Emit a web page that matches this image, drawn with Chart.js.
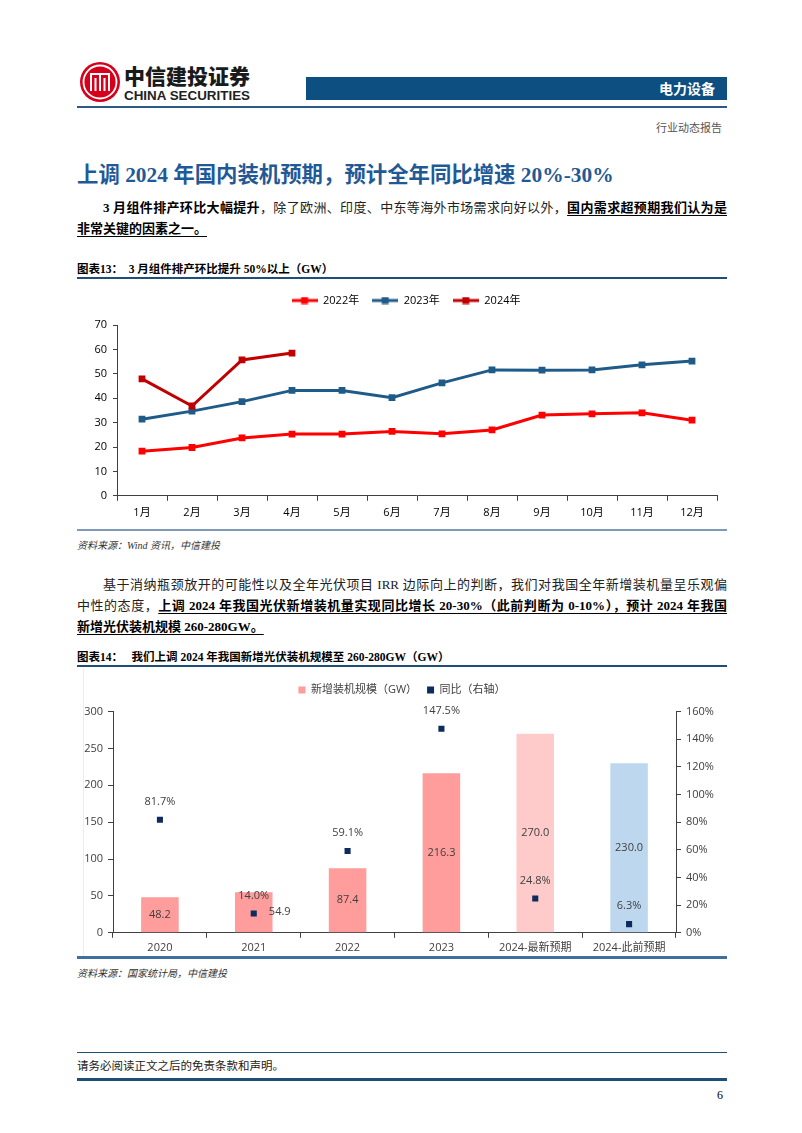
<!DOCTYPE html>
<html>
<head>
<meta charset="utf-8">
<script src="https://cdn.jsdelivr.net/npm/chart.js@4.4.1/dist/chart.umd.min.js"></script>
<style>
  body { margin: 0; background: #fff; }
  #page { position: relative; width: 802px; height: 1133px; overflow: hidden; background: #fff;
    font-family: "Liberation Serif", "Noto Sans CJK SC", serif; color: #000; }
  .abs { position: absolute; }
  .rule { position: absolute; left: 77px; width: 650px; }
  .line { position: absolute; left: 77px; width: 650px; height: 21px; line-height: 21px; font-size: 13px; white-space: nowrap; }
  .full { text-align: justify; text-align-last: justify; text-justify: inter-character; }
  .b { font-weight: bold; }
  .u { text-decoration: underline; text-underline-offset: 3px; text-decoration-thickness: 1px; }
  .reg { color: #222; }
  .figtitle { position: absolute; left: 77px; font-size: 11.5px; font-weight: bold; white-space: nowrap; }
  .source { position: absolute; left: 77px; font-size: 10px; font-style: italic; color: #333; }
  canvas { position: absolute; }
</style>
</head>
<body>
<div id="page">
  <!-- header -->
  <svg class="abs" style="left:78px;top:60px" width="180" height="44">
    <circle cx="22" cy="22" r="20" fill="#d7001b"/>
    <circle cx="22" cy="22" r="16.5" fill="none" stroke="#fff" stroke-width="1.8"/>
    <path d="M13 31 V14 H31 V31 M17.5 31 V18 M26.5 31 V18 M22 14 V31" fill="none" stroke="#fff" stroke-width="2"/>
    <text x="46" y="24" font-family="Noto Sans CJK SC" font-weight="900" font-size="21" fill="#1a1a1a" textLength="126" lengthAdjust="spacingAndGlyphs">中信建投证券</text>
    <text x="46" y="40" font-family="Liberation Sans, Arial" font-weight="bold" font-size="12.5" fill="#222" textLength="126" lengthAdjust="spacingAndGlyphs">CHINA SECURITIES</text>
  </svg>
  <div class="abs" style="left:306px;top:77px;width:421px;height:23px;background:#0d4f80;"></div>
  <div class="abs" style="left:306px;top:77px;width:409px;height:23px;line-height:23px;text-align:right;color:#fff;font-family:'Noto Sans CJK SC';font-weight:bold;font-size:14px;">电力设备</div>
  <div class="rule" style="top:106px;height:1.5px;background:#2a5a85;"></div>
  <div class="abs" style="left:600px;width:122px;top:119px;text-align:right;font-size:11px;color:#555;font-family:'Noto Sans CJK SC';">行业动态报告</div>

  <!-- section title -->
  <div class="abs" style="left:77px;top:157px;font-size:21.4px;font-weight:bold;color:#1f5a96;white-space:nowrap;">上调 2024 年国内装机预期，预计全年同比增速 20%-30%</div>

  <!-- paragraph 1 -->
  <div class="line full" style="top:197px;left:103px;width:624px;"><span class="b">3 月组件排产环比大幅提升</span><span class="reg">，除了欧洲、印度、中东等海外市场需求向好以外，</span><span class="b u">国内需求超预期我们认为是</span></div>
  <div class="line" style="top:218px;"><span class="b u">非常关键的因素之一。</span></div>

  <!-- figure 13 -->
  <div class="figtitle" style="top:260px;">图表13：&nbsp; 3 月组件排产环比提升 50%以上（GW）</div>
  <div class="rule" style="top:277px;height:2px;background:#1f4e79;"></div>
  <canvas id="c1" width="650" height="246" style="left:77px;top:282px;"></canvas>
  <div class="rule" style="top:529px;height:2px;background:#7d9bb9;"></div>
  <div class="source" style="top:537px;">资料来源：Wind 资讯，中信建投</div>

  <!-- paragraph 2 -->
  <div class="line full reg" style="top:574px;left:103px;width:624px;">基于消纳瓶颈放开的可能性以及全年光伏项目 IRR 边际向上的判断，我们对我国全年新增装机量呈乐观偏</div>
  <div class="line full" style="top:595px;"><span class="reg">中性的态度，</span><span class="b u">上调 2024 年我国光伏新增装机量实现同比增长 20-30%（此前判断为 0-10%），预计 2024 年我国</span></div>
  <div class="line" style="top:616px;"><span class="b u">新增光伏装机规模 260-280GW。</span></div>

  <!-- figure 14 -->
  <div class="figtitle" style="top:648px;">图表14：&nbsp;&nbsp; 我们上调 2024 年我国新增光伏装机规模至 260-280GW（GW）</div>
  <div class="rule" style="top:665px;height:2px;background:#1f4e79;"></div>
  <div class="abs" style="left:83px;top:668px;width:1px;height:288px;background:#ececec;"></div>
  <canvas id="c2" width="650" height="292" style="left:77px;top:668px;"></canvas>
  <div class="rule" style="top:956px;height:3px;background:#3f6f9e;"></div>
  <div class="source" style="top:965px;">资料来源：国家统计局，中信建投</div>

  <!-- footer -->
  <div class="rule" style="top:1052px;height:1px;background:#1f4e79;"></div>
  <div class="abs" style="left:77px;top:1057px;font-size:11.5px;color:#222;">请务必阅读正文之后的免责条款和声明。</div>
  <div class="rule" style="top:1078px;height:3px;background:#1f4e79;"></div>
  <div class="abs" style="left:700px;width:23px;top:1088px;text-align:right;font-size:12px;">6</div>
</div>

<script>
  // chart 13 data
  var months = ['1月', '2月', '3月', '4月', '5月', '6月', '7月', '8月', '9月', '10月', '11月', '12月'];
  var y2022 = [18.3, 19.8, 23.7, 25.3, 25.3, 26.4, 25.4, 27.0, 33.1, 33.6, 34.0, 31.0];
  var y2023 = [31.4, 34.7, 38.6, 43.2, 43.2, 40.2, 46.3, 51.6, 51.5, 51.6, 53.7, 55.2];
  var y2024 = [47.9, 36.8, 55.7, 58.5];
  var yTicks1 = [0, 10, 20, 30, 40, 50, 60, 70];

  // chart 14 data
  var years = ['2020', '2021', '2022', '2023', '2024-最新预期', '2024-此前预期'];
  var added = [48.2, 54.9, 87.4, 216.3, 270.0, 230.0];
  var yoy = [81.7, 14.0, 59.1, 147.5, 24.8, 6.3];
  var barColors = ['#ff9c9c', '#ff9c9c', '#ff9c9c', '#ff9c9c', '#ffcaca', '#bdd7ee'];

  Chart.defaults.font.family = '"Open Sans", "Noto Sans CJK SC", sans-serif';
  Chart.defaults.animation = false;

  // legend box gets a fixed height so the plot area lands where it should
  var legendHeight = function (h) {
    return {
      id: 'legendHeight',
      beforeInit: function (chart) {
        var fit = chart.legend.fit;
        chart.legend.fit = function () {
          fit.call(this);
          this.height = h;
        };
      }
    };
  };

  function lineMark(color) {
    var c = document.createElement('canvas');
    c.width = 26; c.height = 8;
    var g = c.getContext('2d');
    g.fillStyle = color;
    g.fillRect(0, 2.5, 26, 3);
    g.fillRect(9.5, 0.5, 7, 7);
    return c;
  }

  var colors1 = ['#ff0000', '#1f5b89', '#c00000'];

  new Chart(document.getElementById('c1'), {
    type: 'line',
    data: {
      labels: months,
      datasets: [
        { label: '2022年', data: y2022, order: 2 },
        { label: '2023年', data: y2023, order: 1 },
        { label: '2024年', data: y2024, order: 0 }
      ].map(function (d, i) {
        d.borderColor = colors1[i];
        d.backgroundColor = colors1[i];
        d.borderWidth = 3;
        d.pointStyle = 'rect';
        d.pointRadius = 4.8;
        d.pointBorderWidth = 0;
        d.tension = 0;
        return d;
      })
    },
    options: {
      responsive: false,
      layout: { padding: { top: 0, right: 10, bottom: 4, left: 18 } },
      plugins: {
        tooltip: { enabled: false },
        legend: {
          position: 'top',
          labels: {
            usePointStyle: true,
            pointStyleWidth: 26,
            color: '#000',
            font: { size: 11 },
            padding: 13,
            generateLabels: function (chart) {
              return chart.data.datasets.map(function (d, i) {
                return { text: d.label, pointStyle: lineMark(colors1[i]), datasetIndex: i, fontColor: '#000', lineWidth: 0, strokeStyle: 'transparent', fillStyle: colors1[i] };
              });
            }
          }
        }
      },
      scales: {
        x: {
          offset: true,
          grid: { drawOnChartArea: false, offset: true, tickLength: 5, color: '#404040' },
          border: { color: '#404040' },
          ticks: { color: '#000', font: { size: 11 }, padding: 5 }
        },
        y: {
          min: 0, max: 70,
          afterBuildTicks: function (s) { s.ticks = yTicks1.map(function (v) { return { value: v }; }); },
          afterFit: function (s) { s.width = 22; },
          grid: { drawOnChartArea: false, tickLength: 4, color: '#404040' },
          border: { color: '#404040' },
          ticks: { color: '#000', font: { size: 11 }, padding: 6 }
        }
      }
    },
    plugins: [legendHeight(43)]
  });

  var valueLabels = {
    id: 'valueLabels',
    afterDatasetsDraw: function (chart) {
      var ctx = chart.ctx;
      ctx.save();
      ctx.font = '11px "Open Sans", "Noto Sans CJK SC", sans-serif';
      ctx.fillStyle = '#404040';
      ctx.textAlign = 'center';
      ctx.textBaseline = 'middle';
      chart.getDatasetMeta(0).data.forEach(function (bar, i) {
        var dx = i === 1 ? 26 : 0; // 2021 label pushed right of the marker
        ctx.fillText(added[i].toFixed(1), bar.x + dx, (bar.y + bar.base) / 2);
      });
      chart.getDatasetMeta(1).data.forEach(function (pt, i) {
        ctx.fillText(yoy[i].toFixed(1) + '%', pt.x, pt.y - 18);
      });
      ctx.restore();
    }
  };

  new Chart(document.getElementById('c2'), {
    data: {
      labels: years,
      datasets: [
        { type: 'bar', label: '新增装机规模（GW）', data: added, backgroundColor: barColors, yAxisID: 'y', order: 2,
          categoryPercentage: 1, barPercentage: 0.4 },
        { type: 'line', label: '同比（右轴）', data: yoy, yAxisID: 'y1', order: 1, showLine: false,
          pointStyle: 'rect', pointRadius: 4.3, pointBorderWidth: 0, backgroundColor: '#0d2b5e', borderColor: '#0d2b5e' }
      ]
    },
    options: {
      responsive: false,
      layout: { padding: { top: 6.5, right: 0, bottom: 3, left: 0 } },
      plugins: {
        tooltip: { enabled: false },
        legend: {
          position: 'top',
          labels: {
            boxWidth: 7, boxHeight: 7,
            color: '#404040',
            font: { size: 11 },
            padding: 10,
            generateLabels: function (chart) {
              return [
                { text: '新增装机规模（GW）', fillStyle: '#ff9c9c', strokeStyle: '#ff9c9c', lineWidth: 0, datasetIndex: 0, fontColor: '#404040' },
                { text: '同比（右轴）', fillStyle: '#0d2b5e', strokeStyle: '#0d2b5e', lineWidth: 0, datasetIndex: 1, fontColor: '#404040' }
              ];
            }
          }
        }
      },
      scales: {
        x: {
          offset: true,
          grid: { drawOnChartArea: false, offset: true, tickLength: 5, color: '#404040' },
          border: { color: '#404040' },
          ticks: { color: '#404040', font: { size: 11 }, padding: 3 }
        },
        y: {
          position: 'left',
          min: 0, max: 300,
          ticks: { stepSize: 50, color: '#404040', font: { size: 11 }, padding: 5 },
          afterFit: function (s) { s.width = 36; },
          grid: { drawOnChartArea: false, tickLength: 5, color: '#404040' },
          border: { color: '#404040' }
        },
        y1: {
          position: 'right',
          min: 0, max: 160,
          ticks: { stepSize: 20, color: '#404040', font: { size: 11 }, padding: 5, callback: function (v) { return v + '%'; } },
          afterFit: function (s) { s.width = 51; },
          grid: { drawOnChartArea: false, tickLength: 5, color: '#404040' },
          border: { color: '#404040' }
        }
      }
    },
    plugins: [legendHeight(37), valueLabels]
  });
</script>
</body>
</html>
